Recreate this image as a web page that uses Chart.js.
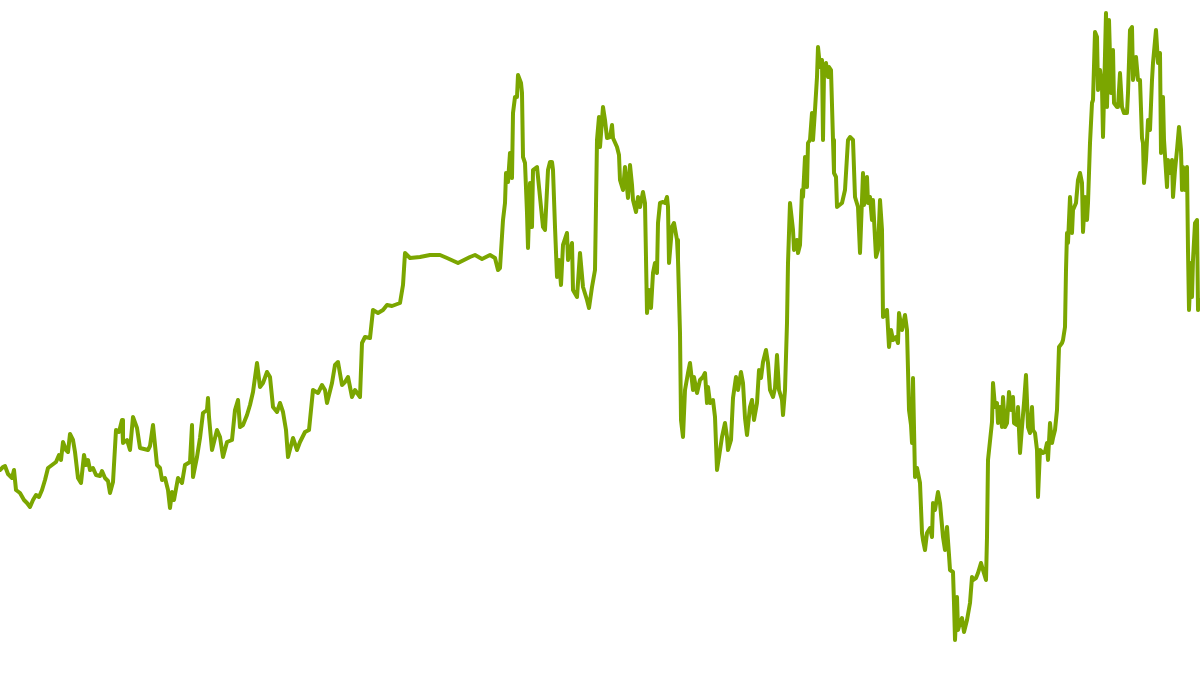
<!DOCTYPE html>
<html>
<head>
<meta charset="utf-8">
<script src="https://cdn.jsdelivr.net/npm/chart.js@4"></script>
<style>
  html, body { margin: 0; padding: 0; background: #fff; }
  #wrap { width: 1200px; height: 675px; position: relative; }
</style>
</head>
<body>
<div id="wrap"><canvas id="linechart"></canvas></div>
<script>
// trading day index
const days = [
  0,3,5,8,12,14,16,20,24,27,30,33,36,39,42,45,48,52,56,59,61,63,66,68,70,73,75,78,81,84,86,88,90,93,96,
  100,102,105,108,110,113,116,119,122,123,127,130,133,137,140,144,148,150,153,157,160,162,165,168,170,172,174,178,182,185,190,192,193,197,
  200,203,207,208,209,212,217,220,223,227,232,235,238,240,243,247,250,253,257,260,263,267,270,273,277,280,283,286,288,293,297,
  300,305,309,313,318,322,325,327,332,335,338,342,345,348,352,355,360,362,365,370,373,378,383,387,392,
  400,403,405,410,420,430,440,447,458,470,475,482,490,495,498,
  500,503,505,506,508,510,512,513,515,517,518,521,522,523,525,527,528,530,532,533,537,540,543,545,548,550,552,553,555,557,559,561,563,567,568,572,573,577,580,583,587,589,592,595,597,599,
  600,603,605,607,610,612,613,617,619,620,623,625,628,630,632,633,636,638,640,643,645,647,649,651,653,655,657,658,660,663,665,667,668,669,672,674,677,678,680,681,683,685,688,690,693,694,697,
  700,703,705,707,708,710,713,715,717,719,722,725,727,728,731,733,736,738,741,743,745,747,750,752,754,757,759,761,763,766,768,770,773,775,777,779,782,783,785,787,788,790,793,794,797,798,
  800,802,803,805,807,808,810,812,813,815,817,818,820,822,823,824,826,828,829,831,833,834,836,837,842,845,848,850,853,855,858,860,863,864,867,868,870,872,873,876,878,880,882,883,886,887,889,891,893,896,898,899,
  902,905,907,909,911,912,913,915,917,920,922,923,925,927,930,932,933,935,938,940,943,945,947,949,950,953,954,955,957,958,960,962,964,967,970,972,973,976,978,981,983,986,987,988,992,993,995,997,998,
  1000,1002,1003,1005,1007,1009,1011,1013,1014,1017,1018,1020,1022,1024,1026,1028,1030,1032,1033,1035,1037,1038,1040,1043,1045,1047,1048,1050,1052,1053,1055,1057,1059,1062,1063,1065,1066,1067,1068,1070,1072,1073,1076,1078,1080,1082,1083,1085,1087,1088,1090,1092,1093,1095,1097,1098,
  1100,1102,1103,1104,1106,1107,1109,1111,1113,1114,1117,1118,1120,1122,1124,1127,1128,1130,1132,1133,1136,1138,1140,1142,1143,1144,1146,1148,1150,1152,1153,1156,1158,1160,1161,1163,1164,1167,1168,1170,1172,1173,1175,1177,1179,1181,1182,1183,1185,1187,1188,1189,1191,1192,1193,1195,1197,1198,1200
]

// index level
const level = [
  205,208,209,201,197,205,185,182,175,172,168,175,180,178,185,195,207,210,213,220,215,233,225,223,241,235,223,197,192,220,210,215,205,207,200,
  199,204,197,194,182,193,245,243,255,232,235,225,258,247,227,226,225,229,250,210,207,195,197,185,167,183,175,197,192,210,213,250,198,218,
  237,262,265,277,258,225,245,238,218,233,235,265,275,248,250,260,270,283,312,288,292,303,298,268,263,272,263,245,218,237,225,
  233,243,245,285,282,290,285,272,292,310,313,290,293,298,278,285,278,332,338,337,365,362,365,370,369,
  372,390,422,417,418,420,420,417,412,418,420,416,420,417,405,
  407,455,472,502,493,522,497,562,578,578,600,592,582,518,512,462,427,492,448,505,508,478,448,445,505,513,513,505,448,398,415,390,430,442,415,432,385,378,422,388,375,367,388,405,535,558,
  528,568,555,537,538,550,537,528,520,495,485,508,477,510,490,475,463,478,468,483,472,362,385,367,402,412,402,452,472,473,472,478,468,412,448,452,435,415,342,255,238,285,302,312,285,298,282,
  295,298,302,272,288,272,275,258,205,218,238,252,238,225,235,277,298,285,303,292,257,240,268,275,255,272,305,297,313,325,312,285,278,287,320,285,275,260,285,352,412,472,445,425,435,422,
  430,485,478,518,488,532,535,562,535,565,598,628,608,615,535,602,612,598,608,605,535,502,498,468,472,485,535,538,535,478,468,422,502,470,498,472,478,455,475,418,425,475,445,358,362,365,328,345,335,338,332,362,
  345,360,345,265,250,232,297,198,207,192,142,135,125,142,147,138,172,165,183,172,138,125,148,120,105,103,72,35,78,45,52,57,43,55,72,98,95,97,102,112,105,95,138,215,253,292,268,272,252,
  268,248,278,248,252,283,265,278,252,250,268,222,248,272,300,248,242,268,245,242,225,178,225,222,223,232,215,252,232,237,245,265,328,332,335,348,405,442,432,478,442,465,472,495,502,492,443,478,455,472,532,572,575,643,638,585,
  605,588,538,578,662,568,655,582,625,572,568,568,602,568,562,562,582,645,648,595,618,595,595,537,532,492,515,555,545,595,612,645,612,622,522,578,535,488,515,502,515,478,505,525,548,525,485,508,485,508,425,365,412,378,415,452,455,365,375
]

const points = days.map((d, i) => ({ x: d, y: level[i] }))

new Chart(document.getElementById('linechart'), {
  type: 'line',
  data: {
    datasets: [{
      data: points,
      borderColor: '#7ba600',
      borderWidth: 4,
      borderJoinStyle: 'round',
      borderCapStyle: 'round',
      pointRadius: 0,
      tension: 0,
      fill: false
    }]
  },
  options: {
    responsive: true,
    maintainAspectRatio: false,
    animation: false,
    layout: { padding: 0 },
    plugins: { legend: { display: false }, tooltip: { enabled: false } },
    scales: {
      x: { type: 'linear', min: 0, max: 1200, display: false },
      y: { min: 0, max: 675, display: false }
    }
  }
})
</script>
</body>
</html>
